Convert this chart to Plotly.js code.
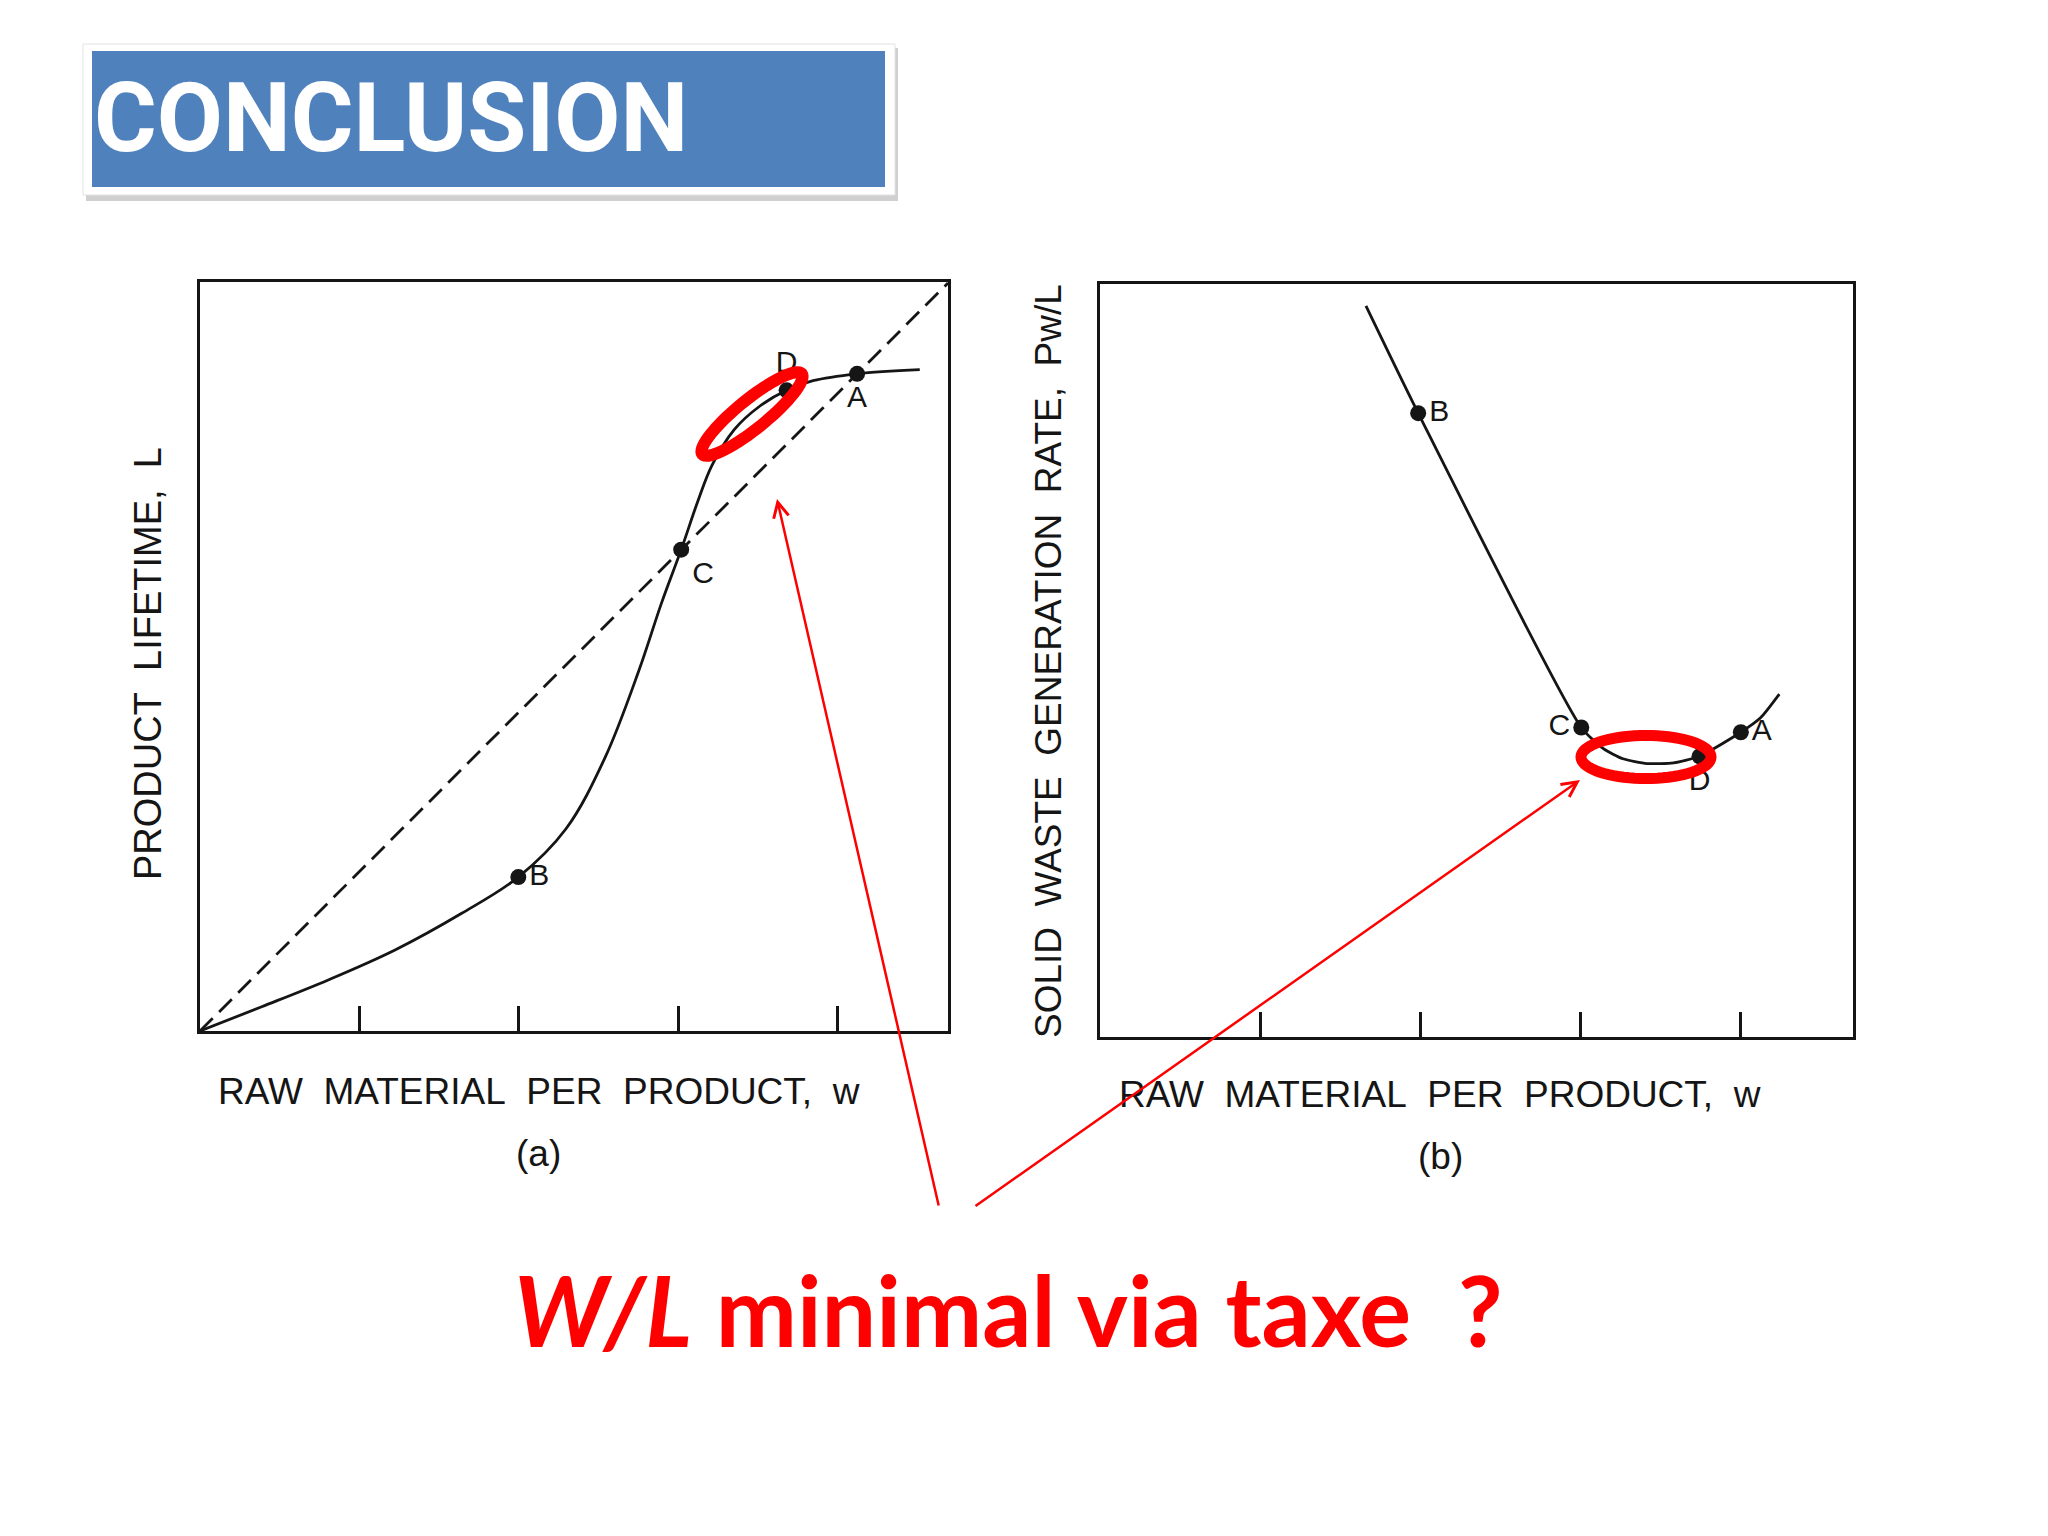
<!DOCTYPE html>
<html>
<head>
<meta charset="utf-8">
<script src="https://cdn.plot.ly/plotly-3.0.1.min.js"></script>
<style>
html, body { margin: 0; padding: 0; background: #ffffff; }
#chart { width: 2048px; height: 1536px; }
</style>
</head>
<body>
<div id="chart"></div>
<script>
// ---------- DATA ----------
// Panel (a): product lifetime L versus raw material per product w
const lifetimeCurveW = [0, 0.387, 0.804, 1.223, 1.641, 1.996, 2.295, 2.541, 2.753, 2.893, 3.017, 3.122, 3.210, 3.351, 3.509, 3.678, 3.844, 4.120, 4.513];
const lifetimeCurveL = [0, 0.152, 0.320, 0.508, 0.738, 0.965, 1.268, 1.717, 2.263, 2.681, 3.018, 3.323, 3.547, 3.772, 3.917, 4.017, 4.077, 4.120, 4.146];
const diagonalW = [0, 4.69];
const diagonalL = [0, 4.69];
const lifetimePointLabels = ['B', 'C', 'D', 'A'];
const lifetimePointW = [1.996, 3.017, 3.678, 4.120];
const lifetimePointL = [0.965, 3.018, 4.017, 4.120];

// Panel (b): solid waste generation rate Pw/L versus w
const wasteCurveW   = [1.660, 1.986, 3.004, 3.142, 3.264, 3.415, 3.580, 3.742, 4.000, 4.123, 4.240];
const wasteCurvePwL = [4.563, 3.894, 1.932, 1.800, 1.737, 1.707, 1.711, 1.752, 1.902, 1.992, 2.140];
const wastePointLabels = ['B', 'C', 'D', 'A'];
const wastePointW   = [1.986, 3.004, 3.742, 4.000];
const wastePointPwL = [3.894, 1.932, 1.752, 1.902];

const xTickValues = [1, 2, 3, 4];

// Texts
const headingText = 'CONCLUSION';
const xTitleText = 'RAW\u00a0\u00a0MATERIAL\u00a0\u00a0PER\u00a0\u00a0PRODUCT,\u00a0\u00a0w';
const yTitleA = 'PRODUCT\u00a0\u00a0LIFETIME,\u00a0\u00a0L';
const yTitleB = 'SOLID\u00a0\u00a0WASTE\u00a0\u00a0GENERATION\u00a0\u00a0RATE,\u00a0\u00a0Pw/L';
const captionA = '(a)';
const captionB = '(b)';
const questionText = '<b><i>W/L</i> minimal via taxe\u00a0\u00a0?</b>';

// ---------- LAYOUT HELPERS ----------
const W = 2048, H = 1536;
const px = x => x / W;
const py = y => 1 - y / H;
const ink = '#151515';
const red = '#ff0000';
const labelFont = { family: 'Liberation Sans, Arial, sans-serif', size: 30, color: ink };
const titleFont = { family: 'Liberation Sans, Arial, sans-serif', size: 37, color: ink };

function ellipsePath(cx, cy, rx, ry, angleDeg) {
  const a = angleDeg * Math.PI / 180;
  let d = '';
  for (let i = 0; i <= 72; i++) {
    const t = i / 72 * 2 * Math.PI;
    const ex = rx * Math.cos(t), ey = ry * Math.sin(t);
    const X = cx + ex * Math.cos(a) + ey * Math.sin(a);
    const Y = cy - ex * Math.sin(a) + ey * Math.cos(a);
    d += (i === 0 ? 'M' : 'L') + px(X).toFixed(5) + ',' + py(Y).toFixed(5);
  }
  return d + 'Z';
}

const traces = [
  { x: diagonalW, y: diagonalL, xaxis: 'x', yaxis: 'y', mode: 'lines', hoverinfo: 'skip',
    line: { color: ink, width: 2.8, dash: '18px,9px' } },
  { x: lifetimeCurveW, y: lifetimeCurveL, xaxis: 'x', yaxis: 'y', mode: 'lines', hoverinfo: 'skip',
    line: { color: ink, width: 2.8, shape: 'spline', smoothing: 1 } },
  { x: lifetimePointW, y: lifetimePointL, xaxis: 'x', yaxis: 'y', mode: 'markers+text',
    text: lifetimePointLabels, textposition: ['middle right', 'bottom right', 'top center', 'bottom center'],
    textfont: labelFont, marker: { color: ink, size: 16 }, cliponaxis: false },
  { x: wasteCurveW, y: wasteCurvePwL, xaxis: 'x2', yaxis: 'y2', mode: 'lines', hoverinfo: 'skip',
    line: { color: ink, width: 2.8, shape: 'spline', smoothing: 0.6 } },
  { x: wastePointW, y: wastePointPwL, xaxis: 'x2', yaxis: 'y2', mode: 'markers+text',
    text: wastePointLabels, textposition: ['middle right', 'middle left', 'bottom center', 'middle right'],
    textfont: labelFont, marker: { color: ink, size: 16 }, cliponaxis: false }
];

const axisCommon = {
  showgrid: false, zeroline: false, showline: true, mirror: true,
  linecolor: ink, linewidth: 3, showticklabels: false, fixedrange: true
};

const layout = {
  width: W, height: H,
  margin: { l: 0, r: 0, t: 0, b: 0 },
  paper_bgcolor: '#ffffff', plot_bgcolor: '#ffffff',
  showlegend: false,
  font: { family: 'Liberation Sans, Arial, sans-serif', color: ink },
  xaxis: Object.assign({}, axisCommon, { domain: [px(200), px(948)], range: [0, 4.69], anchor: 'y',
    ticks: 'inside', tickvals: xTickValues, ticklen: 25, tickwidth: 3, tickcolor: ink }),
  yaxis: Object.assign({}, axisCommon, { domain: [py(1031), py(282)], range: [0, 4.696], anchor: 'x', ticks: '' }),
  xaxis2: Object.assign({}, axisCommon, { domain: [px(1100), px(1853)], range: [0, 4.70], anchor: 'y2',
    ticks: 'inside', tickvals: xTickValues, ticklen: 25, tickwidth: 3, tickcolor: ink }),
  yaxis2: Object.assign({}, axisCommon, { domain: [py(1037), py(284)], range: [0, 4.70], anchor: 'x2', ticks: '' }),
  shapes: [
    // heading box: shadow, white frame, blue panel
    { type: 'rect', xref: 'paper', yref: 'paper', x0: px(86), x1: px(898), y0: py(48), y1: py(201),
      fillcolor: 'rgba(120,120,120,0.35)', line: { width: 0 }, layer: 'below' },
    { type: 'rect', xref: 'paper', yref: 'paper', x0: px(83), x1: px(895), y0: py(44), y1: py(195),
      fillcolor: '#ffffff', line: { color: '#e2e2e2', width: 1 }, layer: 'below' },
    { type: 'rect', xref: 'paper', yref: 'paper', x0: px(92), x1: px(885), y0: py(51), y1: py(187),
      fillcolor: '#4f81bd', line: { width: 0 }, layer: 'below' },
    // red highlight ellipses
    { type: 'path', xref: 'paper', yref: 'paper', path: ellipsePath(752, 414, 64, 14.5, 39),
      line: { color: red, width: 12 }, fillcolor: 'rgba(0,0,0,0)' },
    { type: 'path', xref: 'paper', yref: 'paper', path: ellipsePath(1646, 757, 65, 21.5, 0),
      line: { color: red, width: 11 }, fillcolor: 'rgba(0,0,0,0)' }
  ],
  annotations: [
    { xref: 'paper', yref: 'paper', x: px(391), y: py(118), xanchor: 'center', yanchor: 'middle',
      text: '<b>' + headingText + '</b>', showarrow: false,
      font: { family: 'Roboto, sans-serif', size: 96, color: '#ffffff' } },
    { xref: 'paper', yref: 'paper', x: px(539), y: py(1091), xanchor: 'center', yanchor: 'middle',
      text: xTitleText, showarrow: false, font: titleFont },
    { xref: 'paper', yref: 'paper', x: px(538), y: py(1153), xanchor: 'center', yanchor: 'middle',
      text: captionA, showarrow: false, font: titleFont },
    { xref: 'paper', yref: 'paper', x: px(1440), y: py(1094), xanchor: 'center', yanchor: 'middle',
      text: xTitleText, showarrow: false, font: titleFont },
    { xref: 'paper', yref: 'paper', x: px(1440), y: py(1156), xanchor: 'center', yanchor: 'middle',
      text: captionB, showarrow: false, font: titleFont },
    { xref: 'paper', yref: 'paper', x: px(148), y: py(664), xanchor: 'center', yanchor: 'middle',
      text: yTitleA, textangle: -90, showarrow: false, font: Object.assign({}, titleFont, { size: 38 }) },
    { xref: 'paper', yref: 'paper', x: px(1048), y: py(661), xanchor: 'center', yanchor: 'middle',
      text: yTitleB, textangle: -90, showarrow: false, font: titleFont },
    { xref: 'paper', yref: 'paper', x: px(1008), y: py(1309), xanchor: 'center', yanchor: 'middle',
      text: questionText, showarrow: false,
      font: { family: 'Lato, Open Sans, sans-serif', size: 97, color: red } },
    // red arrows
    { xref: 'paper', yref: 'paper', x: px(777), y: py(499), ax: 939 - 777, ay: 1207 - 499,
      axref: 'pixel', ayref: 'pixel', text: '', showarrow: true,
      arrowhead: 5, arrowsize: 1.2, arrowwidth: 2.5, arrowcolor: red, standoff: 0, startstandoff: 0 },
    { xref: 'paper', yref: 'paper', x: px(1580), y: py(780), ax: 974 - 1580, ay: 1207 - 780,
      axref: 'pixel', ayref: 'pixel', text: '', showarrow: true,
      arrowhead: 5, arrowsize: 1.2, arrowwidth: 2.5, arrowcolor: red, standoff: 0, startstandoff: 0 }
  ]
};

Plotly.newPlot('chart', traces, layout, { staticPlot: true, displayModeBar: false });
</script>
</body>
</html>
